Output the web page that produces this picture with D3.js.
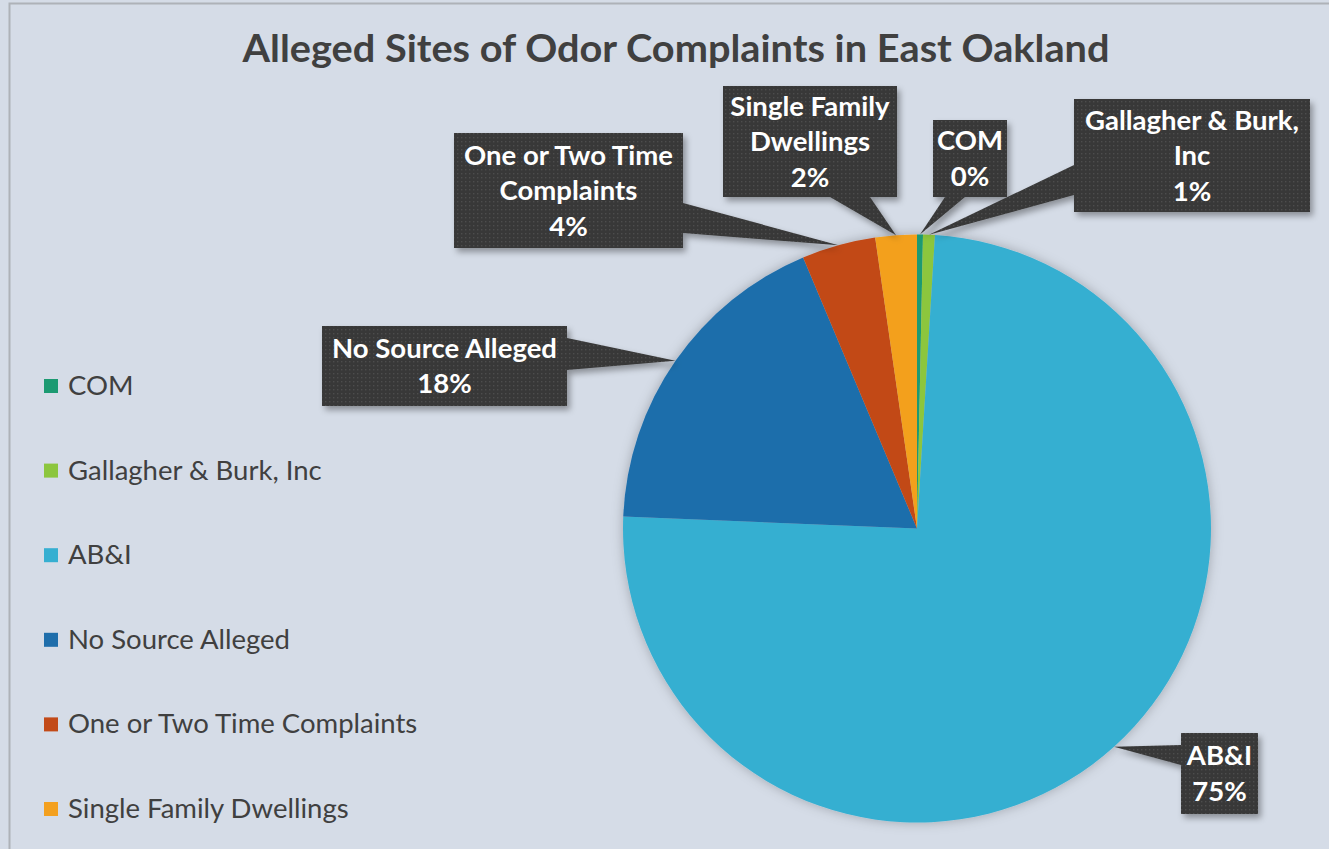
<!DOCTYPE html>
<html>
<head>
<meta charset="utf-8">
<script src="https://cdn.jsdelivr.net/npm/d3@7"></script>
<style>
  html, body { margin: 0; padding: 0; background: #d5dce7; }
  svg { display: block; }
</style>
</head>
<body>
<div id="chart"></div>
<script>
const WIDTH = 1329,
    HEIGHT = 849;

// data (complaint counts)
const categories = ["COM", "Gallagher & Burk, Inc", "AB&I", "No Source Alleged", "One or Two Time Complaints", "Single Family Dwellings"];
const counts = [2, 4, 460, 111, 25, 14];
const colors = ["#1c9a72", "#8cc63e", "#36afd1", "#1f6eab", "#c24a18", "#f3a01f"];

// label lines as shown in each callout
const labelLines = [
    ["COM"],
    ["Gallagher & Burk,", "Inc"],
    ["AB&I"],
    ["No Source Alleged"],
    ["One or Two Time", "Complaints"],
    ["Single Family", "Dwellings"]
];

// callout box placement: x, y, w, h, side the wedge leaves from, wedge base [a, b] along that side
const callouts = [
    { x: 933, y: 120, w: 74, h: 77, side: "bottom", base: [12, 32] },
    { x: 1074, y: 99, w: 236, h: 113, side: "left", base: [66, 96] },
    { x: 1181, y: 733, w: 77, h: 81, side: "left", base: [12, 32] },
    { x: 322, y: 326, w: 245, h: 80, side: "right", base: [12, 44] },
    { x: 454, y: 133, w: 229, h: 115, side: "right", base: [70, 100] },
    { x: 723, y: 86, w: 174, h: 111, side: "bottom", base: [107, 147] }
];

const CX = 917, CY = 528.5, R = 294;

const svg = d3.select("#chart").append("svg")
    .attr("width", WIDTH)
    .attr("height", HEIGHT);

const defs = svg.append("defs");

const dots = defs.append("pattern")
    .attr("id", "dots")
    .attr("width", 4)
    .attr("height", 4)
    .attr("patternUnits", "userSpaceOnUse");
dots.append("rect").attr("width", 4).attr("height", 4).attr("fill", "#383838");
dots.append("rect").attr("x", 1).attr("y", 1).attr("width", 1.3).attr("height", 1.3).attr("fill", "#4d4d4d");

const shadow = defs.append("filter").attr("id", "shadow")
    .attr("x", "-20%").attr("y", "-20%").attr("width", "150%").attr("height", "150%");
shadow.append("feDropShadow")
    .attr("dx", 3).attr("dy", 4).attr("stdDeviation", 3)
    .attr("flood-color", "#000").attr("flood-opacity", 0.35);

const pieShadow = defs.append("filter").attr("id", "pieShadow")
    .attr("x", "-20%").attr("y", "-20%").attr("width", "140%").attr("height", "140%");
pieShadow.append("feDropShadow")
    .attr("dx", 0).attr("dy", 0).attr("stdDeviation", 6)
    .attr("flood-color", "#000").attr("flood-opacity", 0.25);

// background + frame
svg.append("rect")
    .attr("x", 9.5).attr("y", 3.5)
    .attr("width", WIDTH + 20).attr("height", HEIGHT + 20)
    .attr("fill", "#d5dce7")
    .attr("stroke", "#aeb2b8")
    .attr("stroke-width", 2);

// title
svg.append("text")
    .attr("x", 676)
    .attr("y", 62)
    .attr("text-anchor", "middle")
    .attr("font-family", "Lato, 'Open Sans', sans-serif")
    .attr("font-weight", "bold")
    .attr("font-size", 38)
    .attr("fill", "#404040")
    .attr("textLength", 867)
    .attr("lengthAdjust", "spacingAndGlyphs")
    .text("Alleged Sites of Odor Complaints in East Oakland");

// pie
const total = d3.sum(counts);
const data = categories.map((c, i) => ({ name: c, value: counts[i], color: colors[i], i }));

const pie = d3.pie().sort(null).value(d => d.value);
const arcs = pie(data);
const arc = d3.arc().innerRadius(0).outerRadius(R);

const pieG = svg.append("g")
    .attr("transform", `translate(${CX},${CY})`)
    .attr("filter", "url(#pieShadow)");

pieG.selectAll("path")
    .data(arcs)
    .join("path")
    .attr("d", arc)
    .attr("fill", d => d.data.color);

// callouts
const fmt = d => Math.round(d.value / total * 100) + "%";
const tipArc = d3.arc().innerRadius(R).outerRadius(R);

const labelG = svg.append("g");

arcs.forEach((a, i) => {
    const c = callouts[i];
    const tip = tipArc.centroid(a);
    const tx = tip[0] + CX, ty = tip[1] + CY;
    let p1, p2;
    if (c.side === "right") { p1 = [c.x + c.w, c.y + c.base[0]]; p2 = [c.x + c.w, c.y + c.base[1]]; }
    else if (c.side === "left") { p1 = [c.x, c.y + c.base[0]]; p2 = [c.x, c.y + c.base[1]]; }
    else if (c.side === "bottom") { p1 = [c.x + c.base[0], c.y + c.h]; p2 = [c.x + c.base[1], c.y + c.h]; }
    else { p1 = [c.x + c.base[0], c.y]; p2 = [c.x + c.base[1], c.y]; }

    const g = labelG.append("g").attr("filter", "url(#shadow)");
    g.append("path")
        .attr("d", `M${p1[0]},${p1[1]}L${tx},${ty}L${p2[0]},${p2[1]}Z`)
        .attr("fill", "url(#dots)");
    g.append("rect")
        .attr("x", c.x).attr("y", c.y)
        .attr("width", c.w).attr("height", c.h)
        .attr("fill", "url(#dots)");

    const lines = labelLines[i].concat([fmt(a.data)]);
    const lineH = 35.5;
    const y0 = c.y + c.h / 2 - (lines.length - 1) * lineH / 2 + 9.5;
    lines.forEach((t, j) => {
        labelG.append("text")
            .attr("x", c.x + c.w / 2)
            .attr("y", y0 + j * lineH)
            .attr("text-anchor", "middle")
            .attr("font-family", "Lato, 'Open Sans', sans-serif")
            .attr("font-weight", "bold")
            .attr("font-size", 27.5)
            .attr("fill", "#ffffff")
            .text(t);
    });
});

// legend
const legend = svg.append("g");
const rowY = d3.scalePoint().domain(categories).range([386, 809]);

categories.forEach((c, i) => {
    legend.append("rect")
        .attr("x", 44)
        .attr("y", rowY(c) - 7)
        .attr("width", 14)
        .attr("height", 14)
        .attr("fill", colors[i]);
    legend.append("text")
        .attr("x", 68)
        .attr("y", rowY(c) + 9)
        .attr("font-family", "Lato, 'Open Sans', sans-serif")
        .attr("font-size", 27.5)
        .attr("fill", "#404040")
        .text(c);
});
</script>
</body>
</html>
